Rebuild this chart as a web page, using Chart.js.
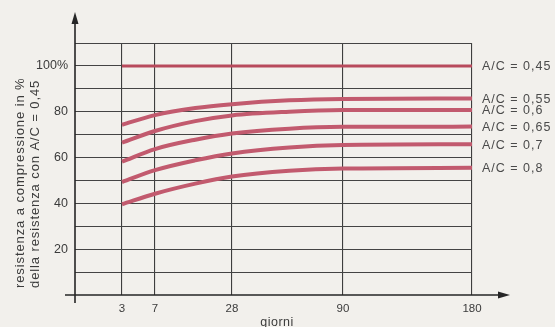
<!DOCTYPE html>
<html>
<head>
<meta charset="utf-8">
<script src="https://cdn.jsdelivr.net/npm/chart.js@4/dist/chart.umd.min.js"></script>
<style>
  html, body { margin: 0; padding: 0; background: #f2f0ec; }
  #wrap { width: 555px; height: 327px; }
</style>
</head>
<body>
<div id="wrap"><canvas id="c" width="555" height="327"></canvas></div>
<script>
// Curing age (days) and strength relative to A/C = 0,45 (%)
const days = [3, 7, 18, 28, 60, 90, 180];
const ac045 = [100, 100, 100, 100, 100, 100, 100];
const ac055 = [74.3, 78.5, 81.6, 83.3, 85.0, 85.6, 85.8];
const ac060 = [66.5, 71.6, 75.9, 78.4, 80.0, 80.7, 80.8];
const ac065 = [58.2, 63.7, 67.8, 70.5, 72.6, 73.4, 73.5];
const ac070 = [49.3, 54.5, 58.8, 61.8, 64.4, 65.5, 65.8];
const ac080 = [39.6, 44.2, 48.6, 51.7, 54.2, 55.2, 55.5];
const seriesLabels = ['A/C = 0,45', 'A/C = 0,55', 'A/C = 0,6', 'A/C = 0,65', 'A/C = 0,7', 'A/C = 0,8'];

const xTicks = [3, 7, 28, 90, 180];
const yTickLabels = { 20: '20', 40: '40', 60: '60', 80: '80', 100: '100%' };
const yTitle = ['resistenza a compressione in %', 'della resistenza con A/C = 0,45'];
const xTitle = 'giorni';

// Time axis of the diagram: stretched piecewise between the marked ages
const axisDays = [0, 3, 7, 28, 90, 180];
const axisStops = [0, 47, 80, 157, 268, 397];

class PiecewiseScale extends Chart.LinearScale {
  toDecimal(v) {
    const n = axisDays.length;
    if (v <= axisDays[0]) return 0;
    for (let i = 1; i < n; i++) {
      if (v <= axisDays[i]) {
        const t = (v - axisDays[i - 1]) / (axisDays[i] - axisDays[i - 1]);
        const s = axisStops[i - 1] + t * (axisStops[i] - axisStops[i - 1]);
        return s / axisStops[n - 1];
      }
    }
    return 1;
  }
  fromDecimal(d) {
    const n = axisDays.length;
    const s = d * axisStops[n - 1];
    for (let i = 1; i < n; i++) {
      if (s <= axisStops[i]) {
        const t = (s - axisStops[i - 1]) / (axisStops[i] - axisStops[i - 1]);
        return axisDays[i - 1] + t * (axisDays[i] - axisDays[i - 1]);
      }
    }
    return axisDays[n - 1];
  }
  getPixelForValue(value) {
    return this.getPixelForDecimal(this.toDecimal(value));
  }
  getValueForPixel(pixel) {
    return this.fromDecimal(this.getDecimalForPixel(pixel));
  }
}
PiecewiseScale.id = 'piecewise';
PiecewiseScale.defaults = {};
Chart.register(PiecewiseScale);

const lineColor = '#c25a6e';
const series = [ac045, ac055, ac060, ac065, ac070, ac080];
const datasets = series.map((vals, i) => ({
  label: seriesLabels[i],
  data: days.map((d, k) => ({ x: d, y: vals[k] })),
  borderColor: i === 0 ? '#b84a5c' : lineColor,
  borderWidth: i === 0 ? 3 : 4,
  pointRadius: 0,
  fill: false,
  cubicInterpolationMode: 'monotone',
  borderCapStyle: 'butt'
}));

const ink = '#3b3b3b';

const decor = {
  id: 'decor',
  beforeDraw(chart) {
    const ctx = chart.ctx;
    ctx.save();
    ctx.fillStyle = '#f2f0ec';
    ctx.fillRect(0, 0, chart.width, chart.height);
    ctx.restore();
  },
  afterDraw(chart) {
    const ctx = chart.ctx;
    const a = chart.chartArea;
    const x0 = a.left, y0 = chart.scales.y.getPixelForValue(0);
    ctx.save();
    ctx.strokeStyle = '#262626';
    ctx.fillStyle = '#262626';
    ctx.lineWidth = 1.6;
    // axes
    ctx.beginPath();
    ctx.moveTo(x0, y0 + 8);
    ctx.lineTo(x0, 20);
    ctx.moveTo(x0 - 10, y0);
    ctx.lineTo(a.right + 30, y0);
    ctx.stroke();
    // arrow heads
    ctx.beginPath();
    ctx.moveTo(x0, 12);
    ctx.lineTo(x0 - 3.5, 24);
    ctx.lineTo(x0 + 3.5, 24);
    ctx.closePath();
    ctx.fill();
    ctx.beginPath();
    ctx.moveTo(a.right + 38, y0);
    ctx.lineTo(a.right + 26, y0 - 3.5);
    ctx.lineTo(a.right + 26, y0 + 3.5);
    ctx.closePath();
    ctx.fill();

    // series labels at the end of each curve
    ctx.fillStyle = '#4a4a4a';
    ctx.font = '12.5px "Liberation Sans", Arial, sans-serif';
    ctx.letterSpacing = '1px';
    ctx.textAlign = 'left';
    ctx.textBaseline = 'middle';
    chart.data.datasets.forEach((ds, i) => {
      const pts = chart.getDatasetMeta(i).data;
      const p = pts[pts.length - 1];
      ctx.fillText(ds.label, a.right + 10, p.y + 1);
    });

    // y axis title (two rotated lines)
    ctx.fillStyle = ink;
    ctx.font = '13px "Liberation Sans", Arial, sans-serif';
    ctx.letterSpacing = '0.9px';
    ctx.textBaseline = 'middle';
    ctx.textAlign = 'left';
    [20, 35].forEach((cx, i) => {
      ctx.save();
      ctx.translate(cx, 288);
      ctx.rotate(-Math.PI / 2);
      ctx.fillText(yTitle[i], 0, 0);
      ctx.restore();
    });

    // x axis title
    ctx.letterSpacing = '0.5px';
    ctx.font = '12.5px "Liberation Sans", Arial, sans-serif';
    ctx.textAlign = 'center';
    ctx.textBaseline = 'top';
    ctx.fillText(xTitle, 277, 316);
    ctx.restore();
  }
};

new Chart(document.getElementById('c'), {
  type: 'line',
  data: { datasets },
  options: {
    responsive: false,
    animation: false,
    layout: { padding: { left: 0, right: 83, top: 43, bottom: 0 } },
    plugins: { legend: { display: false }, tooltip: { enabled: false } },
    scales: {
      x: {
        type: 'piecewise',
        min: 0,
        max: 180,
        afterBuildTicks: (s) => { s.ticks = xTicks.map(v => ({ value: v })); },
        afterFit: (s) => { s.height = 32; },
        border: { display: false },
        grid: { color: '#3e3e3e', lineWidth: 1.1, drawTicks: false },
        ticks: {
          color: ink,
          padding: 7,
          maxRotation: 0,
          autoSkip: false,
          font: { family: '"Liberation Sans", Arial, sans-serif', size: 11.5 },
          callback: (v) => String(v)
        }
      },
      y: {
        min: 0,
        max: 110,
        afterFit: (s) => { s.width = 75; },
        border: { display: false },
        grid: {
          color: (c) => (c.tick && c.tick.value === 0 ? 'rgba(0,0,0,0)' : '#444444'),
          lineWidth: 1,
          drawTicks: false
        },
        ticks: {
          stepSize: 10,
          color: ink,
          padding: 7,
          font: { family: '"Liberation Sans", Arial, sans-serif', size: 12.5 },
          callback: (v) => yTickLabels[v] || ''
        }
      }
    }
  },
  plugins: [decor]
});
</script>
</body>
</html>
